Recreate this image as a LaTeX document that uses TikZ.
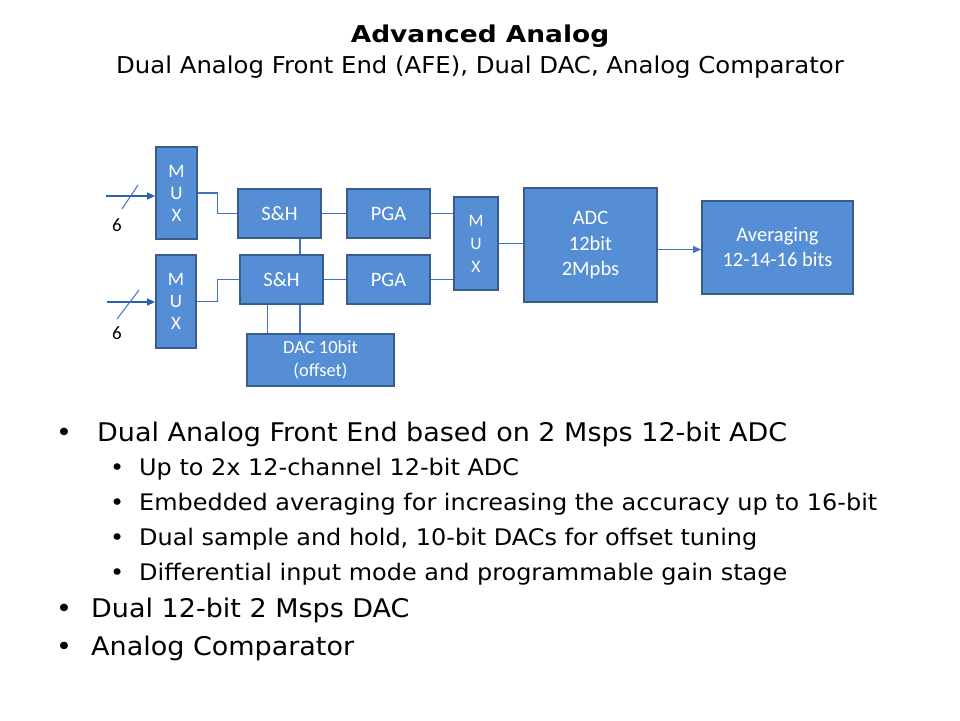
\documentclass[tikz,border=0pt]{standalone}
\usepackage{fontspec}
\setmainfont{DejaVu Sans}[FakeStretch=1.05]
\newfontfamily\calib{Carlito}
\newfontfamily\titlef{DejaVu Sans Bold}[FakeStretch=1.14]
\usetikzlibrary{arrows.meta}
\definecolor{boxfill}{HTML}{558ED5}
\definecolor{boxedge}{HTML}{385D8A}
\definecolor{wirec}{HTML}{4472C4}
\definecolor{inwire}{HTML}{2E62A8}
\begin{document}
\begin{tikzpicture}[x=1pt,y=-1pt,
 blk/.style={draw=boxedge, line width=1.8pt, fill=boxfill, text=white, inner sep=0pt, align=center, font=\calib\fontsize{20.5}{25}\selectfont},
 muxbox/.style={blk, font=\calib\fontsize{19}{22}\selectfont},
 wire/.style={draw=wirec, line width=1.1pt},
 arr/.style={draw=inwire, line width=1.4pt, -{Triangle[length=8pt,width=7pt]}},
 lbl/.style={inner sep=0pt, font=\calib\fontsize{19}{22}\selectfont},
 txt/.style={anchor=base west, inner sep=0pt},
 mainf/.style={txt, font=\fontsize{25.7}{30}\selectfont},
 subf/.style={txt, font=\fontsize{22.8}{26}\selectfont},
]
\useasboundingbox[fill=white] (0,0) rectangle (960,720);

% title
\node[anchor=base, inner sep=0pt, font=\titlef\fontsize{23.2}{28}\selectfont] (title) at (480,42) {Advanced Analog};
\node[anchor=base, inner sep=0pt, font=\fontsize{23.2}{26}\selectfont] (subtitle) at (480,73) {Dual Analog Front End (AFE), Dual DAC, Analog Comparator};

% blocks
\node[muxbox, minimum width=41pt, minimum height=92pt] (mux1) at (176.5,193) {M\\U\\X};
\node[muxbox, minimum width=40pt, minimum height=93pt] (mux2) at (176,301.5) {M\\U\\X};
\node[blk, minimum width=83pt, minimum height=49pt] (sh1) at (279.5,213.5) {S\&H};
\node[blk, minimum width=83pt, minimum height=49pt] (sh2) at (281.5,279.5) {S\&H};
\node[blk, minimum width=83pt, minimum height=49pt] (pga1) at (388.5,213.5) {PGA};
\node[blk, minimum width=83pt, minimum height=49pt] (pga2) at (388.5,279.5) {PGA};
\node[blk, minimum width=147pt, minimum height=52pt, font=\calib\fontsize{18.5}{23}\selectfont] (dac) at (320.5,360) {DAC 10bit\\(offset)};
\node[muxbox, minimum width=44pt, minimum height=93pt, font=\calib\fontsize{17.5}{23}\selectfont] (mux3) at (476,243.5) {M\\U\\X};
\node[blk, minimum width=133pt, minimum height=114pt, font=\calib\fontsize{20.5}{25.5}\selectfont] (adc) at (590.5,245) {ADC\\12bit\\2Mpbs};
\node[blk, minimum width=151pt, minimum height=93pt, font=\calib\fontsize{20.5}{25}\selectfont] (avg) at (777.5,247.5) {Averaging\\12-14-16 bits};

% inputs
\coordinate (in1) at (106,196);
\coordinate (in2) at (107,302);
\draw[arr] (in1) -- (in1 -| mux1.west);
\draw[arr] (in2) -- (in2 -| mux2.west);
\coordinate (s1a) at (122,209); \coordinate (s1b) at (138,185);
\coordinate (s2a) at (117,319); \coordinate (s2b) at (139,290);
\draw[draw=wirec, line width=1pt] (s1a) -- (s1b);
\draw[draw=wirec, line width=1pt] (s2a) -- (s2b);
\node[lbl] (six1) at (117,225) {6};
\node[lbl] (six2) at (117,333) {6};

% connections
\draw[wire] (mux1.east) -- ++(20,0) |- (sh1.west);
\draw[wire] (mux2.east) -- ++(21,0) |- (sh2.west);
\coordinate (xa) at (300,0);
\coordinate (xb) at (267.7,0);
\draw[wire] (sh1.south -| xa) -- (sh2.north -| xa);
\draw[wire] (sh2.south -| xa) -- (dac.north -| xa);
\draw[wire] (sh2.south -| xb) -- (dac.north -| xb);
\draw[wire] (sh1.east) -- (pga1.west);
\draw[wire] (sh2.east) -- (pga2.west);
\draw[wire] (pga1.east) -- (pga1.east -| mux3.west);
\draw[wire] (pga2.east) -- (pga2.east -| mux3.west);
\draw[wire] (mux3.east) -- (mux3.east -| adc.west);
\coordinate (adcout) at ([yshift=-4.5pt]adc.east);
\draw[arr, draw=wirec, line width=1.1pt] (adcout) -- (adcout -| avg.west);

% bullets
\node[mainf] (d1) at (56,441) {•};
\node[mainf] (t1) at (97,441) {Dual Analog Front End based on 2 Msps 12-bit ADC};
\node[subf] (d2) at (110,475) {•};
\node[subf] (t2) at (139,475) {Up to 2x 12-channel 12-bit ADC};
\node[subf] (d3) at (110,510) {•};
\node[subf] (t3) at (139,510) {Embedded averaging for increasing the accuracy up to 16-bit};
\node[subf] (d4) at (110,545) {•};
\node[subf] (t4) at (139,545) {Dual sample and hold, 10-bit DACs for offset tuning};
\node[subf] (d5) at (110,580) {•};
\node[subf] (t5) at (139,580) {Differential input mode and programmable gain stage};
\node[mainf] (d6) at (56,617) {•};
\node[mainf] (t6) at (91,617) {Dual 12-bit 2 Msps DAC};
\node[mainf] (d7) at (56,655) {•};
\node[mainf] (t7) at (91,655) {Analog Comparator};
\end{tikzpicture}
\end{document}
